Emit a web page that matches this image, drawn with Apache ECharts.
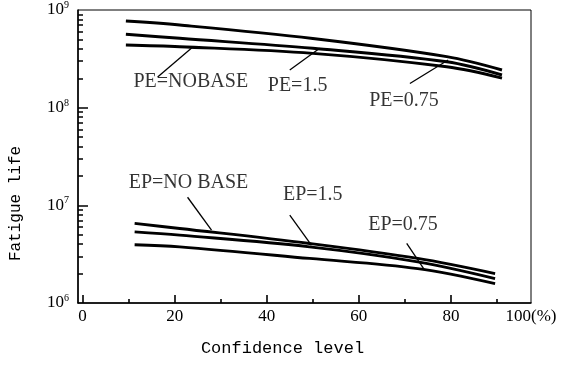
<!DOCTYPE html>
<html>
<head>
<meta charset="utf-8">
<script src="https://cdn.jsdelivr.net/npm/echarts@6/dist/echarts.min.js"></script>
<style>
  html, body { margin: 0; padding: 0; background: #fff; }
  #chart { width: 564px; height: 367px; }
</style>
</head>
<body>
<div id="chart"></div>
<script>
// x positions where the curves were read (confidence level, %)
const peX = [9.4, 21.1, 50.0, 79.1, 91.1];
const epX = [11.3, 21.1, 49.3, 72.8, 89.6];

// fatigue life, upper group (PE)
const peNoBase = [4.38e8, 4.21e8, 3.60e8, 2.62e8, 2.01e8];
const pe15 = [5.64e8, 5.13e8, 4.06e8, 2.95e8, 2.16e8];
const pe075 = [7.71e8, 7.02e8, 5.11e8, 3.33e8, 2.43e8];

// fatigue life, lower group (EP)
const epNoBase = [6.53e6, 5.80e6, 4.07e6, 2.86e6, 2.00e6];
const ep15 = [5.35e6, 4.95e6, 3.76e6, 2.64e6, 1.78e6];
const ep075 = [3.95e6, 3.76e6, 2.86e6, 2.25e6, 1.58e6];

// x axis
const xMin = -1;
const xMax = 97.4;
const xTickValues = [0, 20, 40, 60, 80];
const xMinorTicks = [10, 30, 50, 70, 90];
const xEndLabel = "100(%)";

// y axis
const yMin = 1e6;
const yMax = 1e9;
const yMajorTicks = [1e7, 1e8];

// callouts: text, label anchor, leader line start / end
const calloutText = ["PE=NOBASE", "PE=1.5", "PE=0.75", "EP=NO BASE", "EP=1.5", "EP=0.75"];
const calloutX = [23.5, 46.7, 69.8, 23.0, 50.0, 69.6];
const calloutY = [1.83e8, 1.66e8, 1.17e8, 1.71e7, 1.27e7, 6.27e6];
const leaderX0 = [16.3, 45.0, 71.1, 22.8, 45.0, 70.4];
const leaderY0 = [2.06e8, 2.43e8, 1.77e8, 1.21e7, 7.94e6, 4.07e6];
const leaderX1 = [24.0, 51.5, 79.4, 28.0, 49.7, 74.3];
const leaderY1 = [4.21e8, 4.06e8, 3.08e8, 5.57e6, 3.91e6, 2.17e6];

// log minor ticks 2..9 in every decade
const yMinorTicks = [];
[6, 7, 8].forEach((e) => {
  [2, 3, 4, 5, 6, 7, 8, 9].forEach((m) => yMinorTicks.push(m * Math.pow(10, e)));
});

const serif = "'Liberation Serif', 'DejaVu Serif', serif";
const mono = "'Liberation Mono', 'DejaVu Sans Mono', monospace";

const curve = (name, xs, ys) => ({
  name: name,
  type: "line",
  data: xs.map((x, i) => [x, ys[i]]),
  smooth: 0.35,
  symbol: "none",
  silent: true,
  lineStyle: { color: "#000", width: 2.9 },
});

const chart = echarts.init(document.getElementById("chart"), null, { renderer: "canvas" });

const option = {
  animation: false,
  backgroundColor: "#fff",
  grid: {
    left: 78,
    right: 33,
    top: 10,
    bottom: 64,
    show: true,
    borderColor: "#000",
    borderWidth: 1,
  },
  xAxis: {
    type: "value",
    min: xMin,
    max: xMax,
    position: "bottom",
    axisLine: { onZero: false, lineStyle: { color: "#000", width: 1.5 } },
    axisTick: { show: false },
    axisLabel: {
      customValues: xTickValues.concat([xMax]),
      formatter: (v) => (v === xMax ? xEndLabel : String(v)),
      color: "#000",
      fontFamily: serif,
      fontSize: 17,
      margin: 5,
    },
    splitLine: { show: false },
    name: "Confidence level",
    nameLocation: "middle",
    nameGap: 37,
    nameTextStyle: { color: "#000", fontFamily: mono, fontSize: 17, padding: [0, 44, 0, 0] },
  },
  yAxis: {
    type: "log",
    logBase: 10,
    min: yMin,
    max: yMax,
    position: "left",
    axisLine: { show: true, onZero: false, lineStyle: { color: "#000", width: 1.5 } },
    axisTick: { show: false },
    axisLabel: {
      margin: 9,
      formatter: (v) => "{b|10}{s|" + Math.round(Math.log10(v)) + "}",
      rich: {
        b: { fontFamily: serif, fontSize: 17, color: "#000" },
        s: { fontFamily: serif, fontSize: 10, color: "#000", padding: [0, 0, 9, 0] },
      },
    },
    splitLine: { show: false },
    name: "Fatigue life",
    nameLocation: "middle",
    nameGap: 54,
    nameRotate: 90,
    nameTextStyle: { color: "#000", fontFamily: mono, fontSize: 16, padding: [0, 94, 0, 0] },
  },
  series: [
    curve("PE=NOBASE", peX, peNoBase),
    curve("PE=1.5", peX, pe15),
    curve("PE=0.75", peX, pe075),
    curve("EP=NO BASE", epX, epNoBase),
    curve("EP=1.5", epX, ep15),
    curve("EP=0.75", epX, ep075),
    {
      type: "lines",
      coordinateSystem: "cartesian2d",
      silent: true,
      lineStyle: { color: "#000", width: 1.3, opacity: 1 },
      data: calloutText.map((t, i) => ({
        coords: [
          [leaderX0[i], leaderY0[i]],
          [leaderX1[i], leaderY1[i]],
        ],
      })),
    },
    {
      type: "scatter",
      symbolSize: 0,
      silent: true,
      data: calloutText.map((t, i) => ({ value: [calloutX[i], calloutY[i]], name: t })),
      label: {
        show: true,
        position: "inside",
        formatter: (p) => p.name,
        color: "#000",
        fontFamily: serif,
        fontSize: 20,
      },
    },
  ],
};
chart.setOption(option);

// tick marks pointing into the plot: start on the axis, length in pixels
const tickSeg = (v, len, vertical) => {
  const g = { gridIndex: 0 };
  const p = chart.convertToPixel(g, vertical ? [v, yMin] : [xMin, v]);
  const q = vertical ? [p[0], p[1] - len] : [p[0] + len, p[1]];
  return { coords: [chart.convertFromPixel(g, p), chart.convertFromPixel(g, q)] };
};

option.series.push({
  type: "lines",
  coordinateSystem: "cartesian2d",
  silent: true,
  lineStyle: { color: "#000", width: 1.6, opacity: 1 },
  data: [].concat(
    xTickValues.map((v) => tickSeg(v, 8, true)),
    xMinorTicks.map((v) => tickSeg(v, 4, true)),
    yMajorTicks.map((v) => tickSeg(v, 10, false)),
    yMinorTicks.map((v) => tickSeg(v, 5, false))
  ),
});
chart.setOption(option);
</script>
</body>
</html>
